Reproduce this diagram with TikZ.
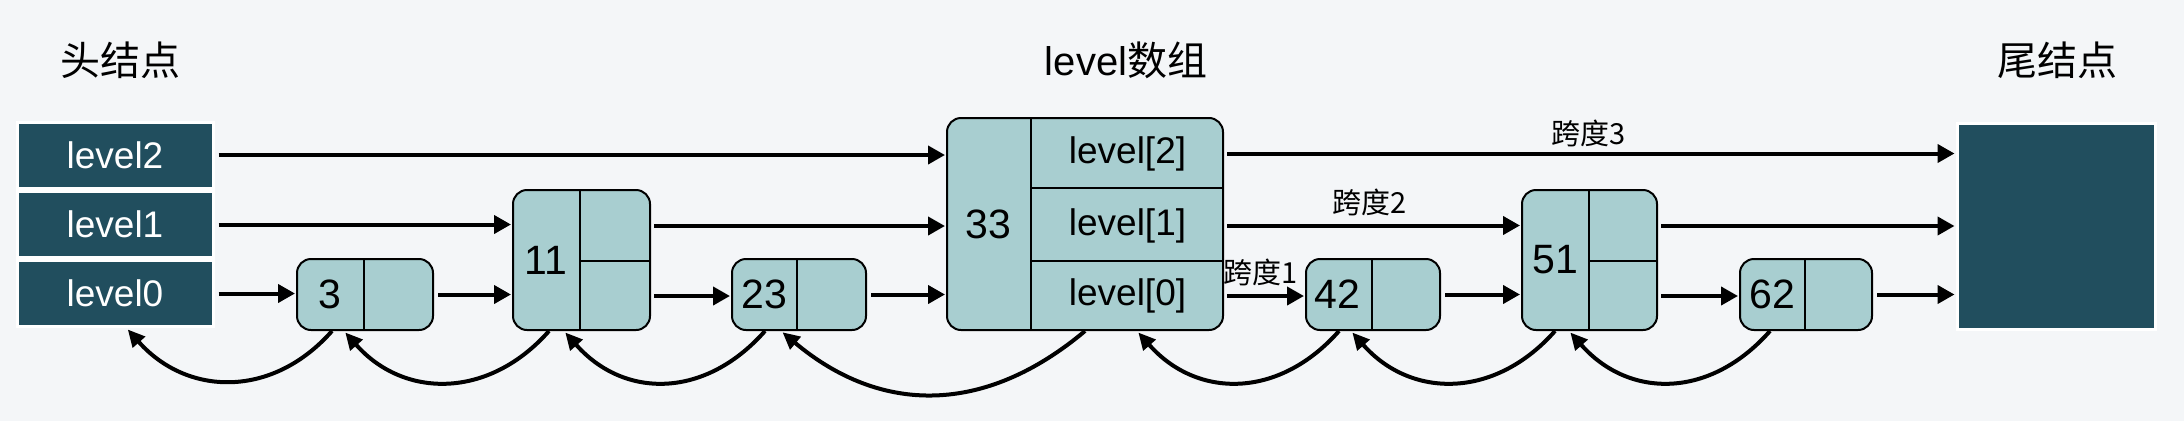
\documentclass[tikz,border=0pt]{standalone}
\usepackage{fontspec}
\setmainfont{Liberation Sans}
\newfontfamily\cjk{Noto Sans CJK SC}
\usetikzlibrary{arrows.meta}
\definecolor{bg}{RGB}{244,246,248}
\definecolor{dark}{RGB}{33,78,94}
\definecolor{cell}{RGB}{168,206,208}
\begin{document}
\begin{tikzpicture}[x=1pt,y=-1pt,
  headbox/.style={fill=dark, draw=white, line width=3pt, inner sep=0pt, text=white, font=\fontsize{37}{40}\selectfont},
  item/.style={fill=cell, draw=black, line width=2pt, rounded corners=14pt, inner sep=0pt},
  div/.style={draw=black, line width=2pt},
  num/.style={inner sep=0pt, font=\fontsize{41}{44}\selectfont},
  lvl/.style={inner sep=0pt, font=\fontsize{37}{40}\selectfont},
  title/.style={inner sep=0pt, font=\fontsize{40}{46}\selectfont},
  span/.style={inner sep=0pt, font=\cjk\fontsize{29}{32}\selectfont},
  cellbox/.style={inner sep=0pt, draw=none},
  link/.style={line width=4pt, -{Triangle[length=17pt,width=18pt]}, shorten <=4pt, shorten >=1pt},
  back/.style={line width=4pt, -{Triangle[length=17pt,width=16pt]}, shorten >=2pt},
]
\fill[bg] (0,0) rectangle (2184,421);
\useasboundingbox (0,0) rectangle (2184,421);

% titles
\node[title] (th) at (120,60) {\cjk 头结点};
\node[title] (tl) at (1126,60) {level\cjk 数组};
\node[title] (tt) at (2057,60) {\cjk 尾结点};

% head and tail
\node[headbox, minimum width=196pt, minimum height=66pt] (h2) at (115,155) {level2};
\node[headbox, minimum width=196pt, minimum height=66pt] (h1) at (115,224.5) {level1};
\node[headbox, minimum width=196pt, minimum height=66pt] (h0) at (115,293.5) {level0};
\node[headbox, minimum width=198pt, minimum height=206pt] (tail) at (2056,226) {};

% list nodes
\node[item, minimum width=136pt, minimum height=71pt] (n3) at (365,294.5) {};
\node[item, minimum width=137pt, minimum height=140pt] (n11) at (581.5,260) {};
\node[item, minimum width=134pt, minimum height=71pt] (n23) at (799,294.5) {};
\node[item, minimum width=276pt, minimum height=212pt] (n33) at (1085,224) {};
\node[item, minimum width=134pt, minimum height=71pt] (n42) at (1373,294.5) {};
\node[item, minimum width=135pt, minimum height=140pt] (n51) at (1589.5,260) {};
\node[item, minimum width=132pt, minimum height=71pt] (n62) at (1806,294.5) {};

% dividers
\draw[div] ([xshift=68pt]n3.north west) -- ([xshift=68pt]n3.south west);
\draw[div] ([xshift=68pt]n11.north west) -- ([xshift=68pt]n11.south west);
\draw[div] ([xshift=68pt,yshift=-72pt]n11.north west) -- ([yshift=-72pt]n11.north east);
\draw[div] ([xshift=66pt]n23.north west) -- ([xshift=66pt]n23.south west);
\draw[div] ([xshift=85pt]n33.north west) -- ([xshift=85pt]n33.south west);
\draw[div] ([xshift=85pt,yshift=-71pt]n33.north west) -- ([yshift=-71pt]n33.north east);
\draw[div] ([xshift=85pt,yshift=-144pt]n33.north west) -- ([yshift=-144pt]n33.north east);
\draw[div] ([xshift=67pt]n42.north west) -- ([xshift=67pt]n42.south west);
\draw[div] ([xshift=68pt]n51.north west) -- ([xshift=68pt]n51.south west);
\draw[div] ([xshift=68pt,yshift=-72pt]n51.north west) -- ([yshift=-72pt]n51.north east);
\draw[div] ([xshift=66pt]n62.north west) -- ([xshift=66pt]n62.south west);

% values
\node[num] (t3) at ([xshift=34pt]n3.west) {3};
\node[num] (t11) at ([xshift=34pt]n11.west) {11};
\node[num] (t23) at ([xshift=33pt]n23.west) {23};
\node[num] (t33) at ([xshift=42pt]n33.west) {33};
\node[num] (t42) at ([xshift=32pt]n42.west) {42};
\node[num] (t51) at ([xshift=34pt]n51.west) {51};
\node[num] (t62) at ([xshift=33pt]n62.west) {62};

% cells
\node[cellbox, lvl, minimum width=191pt, minimum height=71pt] (c2) at (1127.5,153.5) {level[2]};
\node[cellbox, lvl, minimum width=191pt, minimum height=73pt] (c1) at (1127.5,225.5) {level[1]};
\node[cellbox, lvl, minimum width=191pt, minimum height=68pt] (c0) at (1127.5,296) {level[0]};
\node[cellbox, minimum width=69pt, minimum height=72pt] (u11) at (615.5,226) {};
\node[cellbox, minimum width=69pt, minimum height=68pt] (l11) at (615.5,296) {};
\node[cellbox, minimum width=67pt, minimum height=72pt] (u51) at (1623.5,226) {};
\node[cellbox, minimum width=67pt, minimum height=68pt] (l51) at (1623.5,296) {};

% level 2
\draw[link] (h2.east) -- (h2.east -| n33.west);
\draw[link] (c2.east) -- (c2.east -| tail.west);
% level 1
\draw[link] (h1.east) -- (h1.east -| n11.west);
\draw[link] (u11.east) -- (u11.east -| n33.west);
\draw[link] (c1.east) -- (c1.east -| n51.west);
\draw[link] (u51.east) -- (u51.east -| tail.west);
% level 0
\draw[link] (h0.east) -- (h0.east -| n3.west);
\draw[link] (n3.east) -- (n3.east -| n11.west);
\draw[link] (l11.east) -- (l11.east -| n23.west);
\draw[link] (n23.east) -- (n23.east -| n33.west);
\draw[link] (c0.east) -- (c0.east -| n42.west);
\draw[link] (n42.east) -- (n42.east -| n51.west);
\draw[link] (l51.east) -- (l51.east -| n62.west);
\draw[link] (n62.east) -- (n62.east -| tail.west);

% span labels
\node[span] (s1) at (1261,272) {跨度1};
\node[span] (s2) at (1370,202) {跨度2};
\node[span] (s3) at (1589,133) {跨度3};

% backward links
\draw[back] ([xshift=36pt]n3.south west) .. controls +(-60,68) and +(60,68) .. ([xshift=111pt]h0.south west);
\draw[back] ([xshift=37pt]n11.south west) .. controls +(-60,68) and +(60,68) .. ([xshift=48pt]n3.south west);
\draw[back] ([xshift=34pt]n23.south west) .. controls +(-60,68) and +(60,68) .. ([xshift=52pt]n11.south west);
\draw[back] (n33.south) .. controls +(-100,84) and +(100,84) .. ([xshift=50pt]n23.south west);
\draw[back] ([xshift=34pt]n42.south west) .. controls +(-60,68) and +(60,68) .. ([xshift=52pt]n33.south);
\draw[back] ([xshift=34pt]n51.south west) .. controls +(-60,68) and +(60,68) .. ([xshift=46pt]n42.south west);
\draw[back] ([xshift=31pt]n62.south west) .. controls +(-60,68) and +(60,68) .. ([xshift=48pt]n51.south west);
\end{tikzpicture}
\end{document}
